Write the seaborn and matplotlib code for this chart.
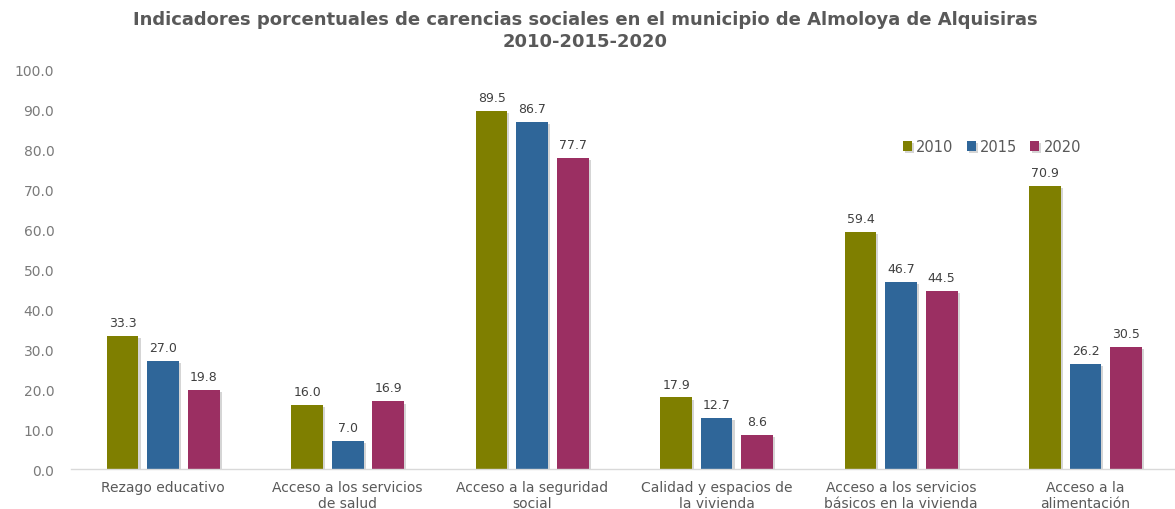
import matplotlib
matplotlib.use("Agg")
import matplotlib.pyplot as plt
import matplotlib.patheffects as pe
import seaborn as sns
import pandas as pd

categorias = [
    "Rezago educativo",
    "Acceso a los servicios\nde salud",
    "Acceso a la seguridad\nsocial",
    "Calidad y espacios de\nla vivienda",
    "Acceso a los servicios\nbásicos en la vivienda",
    "Acceso a la\nalimentación",
]
anios = ["2010", "2015", "2020"]
valores_2010 = [33.3, 16.0, 89.5, 17.9, 59.4, 70.9]
valores_2015 = [27.0, 7.0, 86.7, 12.7, 46.7, 26.2]
valores_2020 = [19.8, 16.9, 77.7, 8.6, 44.5, 30.5]
colores = ["#7f7f00", "#2f6699", "#9b2f62"]

df = pd.DataFrame({
    "Indicador": categorias * 3,
    "Año": [a for a in anios for _ in categorias],
    "Porcentaje": valores_2010 + valores_2015 + valores_2020,
})

sns.set_theme(style="white")
plt.rcParams["font.family"] = ["DejaVu Sans"]

fig = plt.figure(figsize=(11.75, 5.1), dpi=100)
ax = fig.add_axes([0.0604, 0.0784, 0.942, 0.784])

sns.barplot(data=df, x="Indicador", y="Porcentaje", hue="Año",
            palette=colores, width=0.66, gap=0.22, ax=ax,
            saturation=1, errorbar=None, linewidth=0)

shadow = [pe.SimplePatchShadow(offset=(1.5, -1.5), shadow_rgbFace="#888888", alpha=0.35),
          pe.Normal()]
for bar in ax.patches:
    bar.set_path_effects(shadow)

for cont in ax.containers:
    ax.bar_label(cont, fmt="%.1f", padding=5, fontsize=9, color="#404040")

ax.set_ylim(0, 100)
ax.set_yticks(range(0, 101, 10))
ax.set_yticklabels([f"{v:.1f}" for v in range(0, 101, 10)])
ax.set_xlim(-0.5, 5.5)
ax.set_xlabel("")
ax.set_ylabel("")
ax.tick_params(axis="y", length=0, pad=12, labelsize=10, labelcolor="#7a7a7a")
ax.tick_params(axis="x", length=0, pad=8, labelsize=10, labelcolor="#595959")
for s in ["top", "right", "left"]:
    ax.spines[s].set_visible(False)
ax.spines["bottom"].set_color("#d9d9d9")
ax.spines["bottom"].set_linewidth(1)

leg = ax.legend(loc="upper left", bbox_to_anchor=(0.74, 0.858), ncol=3, frameon=False,
                fontsize=10.5, handlelength=0.6, handleheight=0.6, handletextpad=0.3,
                columnspacing=0.9, labelcolor="#595959")

fig.suptitle("Indicadores porcentuales de carencias sociales en el municipio de Almoloya de Alquisiras\n2010-2015-2020",
             x=0.498, y=0.978, fontsize=13, fontweight="bold", color="#595959", linespacing=1.3)

fig.savefig("out.png", dpi=100, facecolor="white")
